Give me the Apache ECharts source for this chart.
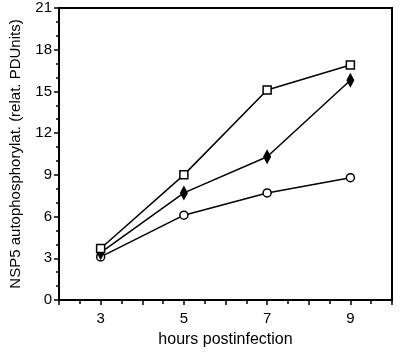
<!DOCTYPE html>
<html>
<head>
<meta charset="utf-8">
<script src="https://cdn.jsdelivr.net/npm/echarts@6/dist/echarts.min.js"></script>
<style>
  html, body { margin: 0; padding: 0; background: #fff; }
  #chart { width: 400px; height: 354px; }
</style>
</head>
<body>
<div id="chart"></div>
<script>
// hours postinfection
var hours = [3, 5, 7, 9];
// relative PDUnits per series
var squareValues = [3.7, 9.0, 15.1, 16.9];
var diamondValues = [3.4, 7.7, 10.3, 15.8];
var circleValues = [3.1, 6.1, 7.7, 8.8];
var xTickLabels = [3, 5, 7, 9];
var yTickLabels = [0, 3, 6, 9, 12, 15, 18, 21];

function pairs(xs, ys) {
    return xs.map(function (x, i) { return [x, ys[i]]; });
}

var chart = echarts.init(document.getElementById('chart'));
var font = 'Liberation Sans, Arial, sans-serif';

var options = {
    animation: false,
    grid: {
        left: 57,
        right: 8,
        top: 8,
        bottom: 54,
        show: true,
        borderColor: '#000',
        borderWidth: 2
    },
    xAxis: {
        type: 'value',
        min: 2,
        max: 10,
        interval: 1,
        name: 'hours postinfection',
        nameLocation: 'middle',
        nameGap: 32,
        nameTextStyle: { color: '#000', fontSize: 16, fontFamily: font },
        axisLine: { lineStyle: { color: '#000', width: 2 } },
        axisTick: { inside: false, length: 5, lineStyle: { color: '#000', width: 1.5 } },
        minorTick: { show: true, splitNumber: 2, length: 4, lineStyle: { color: '#000', width: 1.5 } },
        splitLine: { show: false },
        axisLabel: {
            color: '#000', fontSize: 15, fontFamily: font, margin: 11,
            formatter: function (v) { return xTickLabels.indexOf(v) >= 0 ? String(v) : ''; }
        }
    },
    yAxis: {
        type: 'value',
        min: 0,
        max: 21,
        interval: 3,
        name: 'NSP5 autophosphorylat. (relat. PDUnits)',
        nameLocation: 'middle',
        nameGap: 36,
        nameTextStyle: { color: '#000', fontSize: 15, fontFamily: font },
        axisLine: { show: true, lineStyle: { color: '#000', width: 2 } },
        axisTick: { show: true, inside: false, length: 5, lineStyle: { color: '#000', width: 1.5 } },
        minorTick: { show: true, splitNumber: 3, length: 3, lineStyle: { color: '#000', width: 1.5 } },
        splitLine: { show: false },
        axisLabel: {
            color: '#000', fontSize: 15, fontFamily: font, margin: 7,
            formatter: function (v) { return yTickLabels.indexOf(v) >= 0 ? String(v) : ''; }
        }
    },
    series: [{
        type: 'line',
        data: pairs(hours, circleValues),
        symbol: 'circle',
        symbolSize: 8,
        lineStyle: { color: '#000', width: 1.5 },
        itemStyle: { color: '#fff', borderColor: '#000', borderWidth: 1.5 },
        z: 2
    }, {
        type: 'line',
        data: pairs(hours, diamondValues),
        symbol: 'diamond',
        symbolSize: [7, 13],
        lineStyle: { color: '#000', width: 1.5 },
        itemStyle: { color: '#000', borderColor: '#000', borderWidth: 1 },
        z: 3
    }, {
        type: 'line',
        data: pairs(hours, squareValues),
        symbol: 'rect',
        symbolSize: 8,
        lineStyle: { color: '#000', width: 1.5 },
        itemStyle: { color: '#fff', borderColor: '#000', borderWidth: 1.5 },
        z: 4
    }]
};
chart.setOption(options);
</script>
</body>
</html>
